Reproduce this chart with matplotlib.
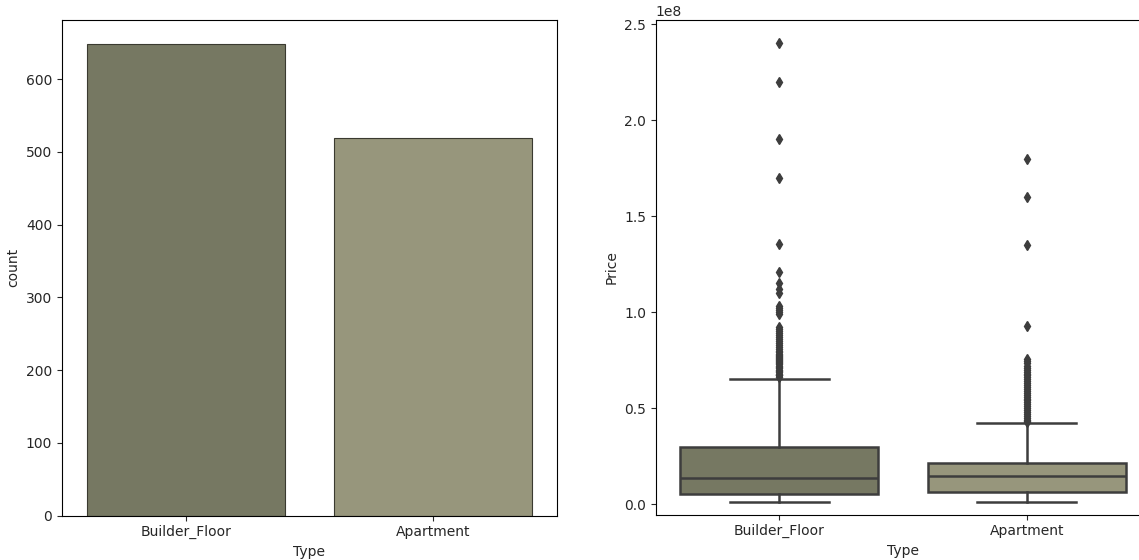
import matplotlib.pyplot as plt
import numpy as np

types = ["Builder_Floor", "Apartment"]
counts = [649, 519]
colors = ["#767862", "#97967c"]

# price box stats (in units of 1e8)
q1 = [0.055, 0.065]
med = [0.134, 0.147]
q3 = [0.297, 0.212]
whis_lo = [0.009, 0.009]
whis_hi = [0.653, 0.423]
fliers_bf = [2.4, 2.2, 1.9, 1.7, 1.355, 1.21, 1.15, 1.12, 1.1, 1.03, 1.02, 1.01, 1.0, 0.99,
             0.92, 0.91, 0.9, 0.89, 0.88, 0.87, 0.86, 0.85, 0.84, 0.83, 0.82, 0.81, 0.8,
             0.79, 0.78, 0.775, 0.77, 0.765, 0.76, 0.755, 0.75, 0.745, 0.74, 0.735, 0.73,
             0.72, 0.715, 0.71, 0.7, 0.695, 0.69, 0.68, 0.675, 0.67, 0.66]
fliers_apt = [1.8, 1.6, 1.35, 0.93, 0.757, 0.745, 0.735, 0.72, 0.71, 0.7, 0.69, 0.68,
              0.67, 0.66, 0.65, 0.64, 0.63, 0.62, 0.61, 0.6, 0.59, 0.58, 0.57, 0.56, 0.55,
              0.54, 0.53, 0.52, 0.51, 0.5, 0.49, 0.48, 0.47, 0.46, 0.45, 0.44, 0.435, 0.43]

plt.rcParams['font.family'] = 'DejaVu Sans'
plt.rcParams['font.size'] = 10
plt.rcParams['text.color'] = '#262626'
plt.rcParams['axes.labelcolor'] = '#262626'
plt.rcParams['xtick.color'] = '#262626'
plt.rcParams['ytick.color'] = '#262626'
W, H = 1139, 560
fig = plt.figure(figsize=(W / 100, H / 100), dpi=100)

ax1 = fig.add_axes([62 / W, 1 - 515.5 / H, (556.7 - 62) / W, (515.5 - 20.3) / H])
ax2 = fig.add_axes([655.7 / W, 1 - 514.5 / H, (1150.7 - 655.7) / W, (514.5 - 20.3) / H])

x = np.arange(len(types))
ax1.bar(x, counts, width=0.8, color=colors, edgecolor="#3a3a30", linewidth=0.8)
ax1.set_xlim(-0.5, 1.5)
ax1.set_ylim(0, 681)
ax1.set_xticks(x)
ax1.set_xticklabels(types)
ax1.set_xlabel("Type")
ax1.set_ylabel("count")

gray = "#3d3d3d"
stats = []
for i, fl in enumerate([fliers_bf, fliers_apt]):
    stats.append(dict(med=med[i] * 1e8, q1=q1[i] * 1e8, q3=q3[i] * 1e8,
                      whislo=whis_lo[i] * 1e8, whishi=whis_hi[i] * 1e8,
                      fliers=np.array(fl) * 1e8))
lw = 1.8
bp = ax2.bxp(stats, positions=x, widths=0.8, patch_artist=True,
             boxprops=dict(edgecolor=gray, linewidth=lw),
             medianprops=dict(color=gray, linewidth=lw),
             whiskerprops=dict(color=gray, linewidth=lw),
             capprops=dict(color=gray, linewidth=lw),
             flierprops=dict(marker="d", markerfacecolor=gray, markeredgecolor=gray,
                             markersize=5.5, linestyle="none"))
for patch, c in zip(bp["boxes"], colors):
    patch.set_facecolor(c)
for cap in bp["caps"]:
    c0 = np.mean(cap.get_xdata())
    cap.set_xdata([c0 - 0.2, c0 + 0.2])
ax2.set_xlim(-0.5, 1.5)
ax2.set_ylim(-0.054e8, 2.52e8)
ax2.set_xticks(x)
ax2.set_xticklabels(types)
ax2.set_xlabel("Type")
ax2.set_ylabel("Price")

fig.savefig("out.png", dpi=100)
